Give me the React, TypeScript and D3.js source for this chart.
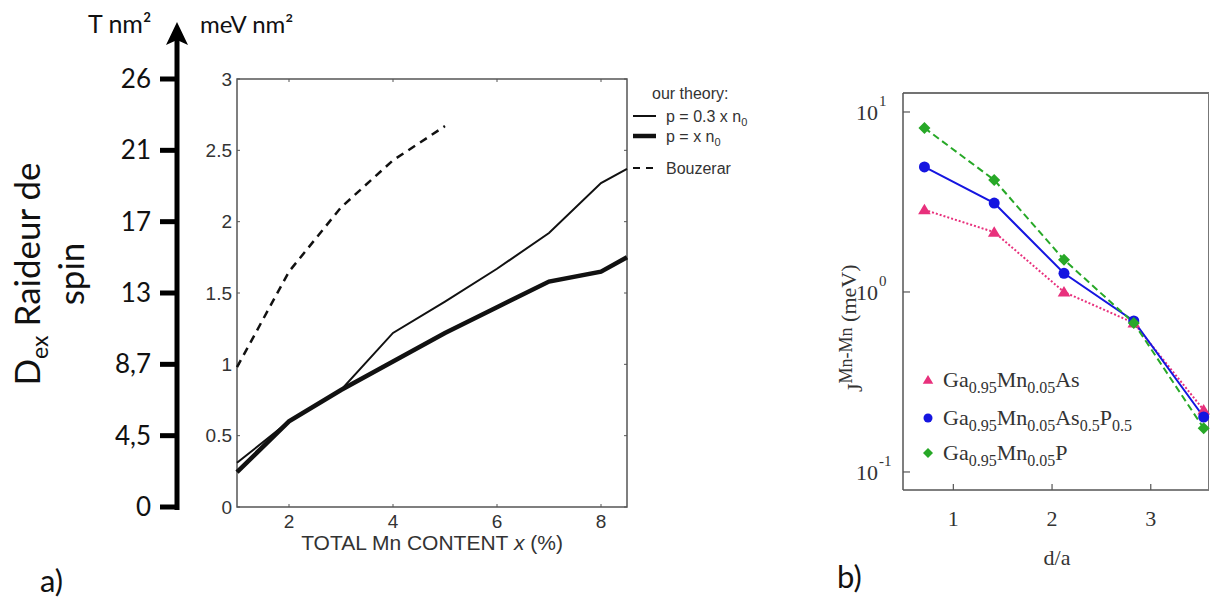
import React from "react";
import * as d3 from "d3";

// ---------- Panel a data ----------
const mnContent = [1, 2, 3, 4, 5, 6, 7, 8, 8.5];
const theoryThin = [0.31, 0.6, 0.82, 1.22, 1.44, 1.67, 1.92, 2.27, 2.37]; // p = 0.3 x n0
const theoryThick = [0.245, 0.6, 0.82, 1.02, 1.22, 1.4, 1.58, 1.65, 1.75]; // p = x n0
const bouzerarX = [1, 2, 3, 4, 5];
const bouzerarY = [0.98, 1.65, 2.1, 2.43, 2.67];
const innerYTicks = [0, 0.5, 1, 1.5, 2, 2.5, 3];
const innerYTickLabels = ["0", "0.5", "1", "1.5", "2", "2.5", "3"];
const outerYTickLabels = ["0", "4,5", "8,7", "13", "17", "21", "26"];
const innerXTicks = [2, 4, 6, 8];

// ---------- Panel b data ----------
const distance = [0.707, 1.414, 2.121, 2.828, 3.536];
const jGaMnAs = [2.86, 2.15, 1.0, 0.673, 0.221];
const jGaMnAsP = [4.95, 3.12, 1.27, 0.69, 0.202];
const jGaMnP = [8.15, 4.19, 1.51, 0.673, 0.175];
const bXTicks = [1, 2, 3];
const bYTicks = [0.1, 1, 10];
const bYExp = ["-1", "0", "1"];

const SANS = "Lato, 'Open Sans', sans-serif";
const ARIAL = "'Liberation Sans', Arial, sans-serif";
const SERIF = "'Liberation Serif', 'Times New Roman', serif";

export default function App() {
  // panel a scales
  const xA = d3.scaleLinear().domain([1, 8.5]).range([237, 627]);
  const yA = d3.scaleLinear().domain([0, 3]).range([507, 79]);
  // panel b scales
  const xB = d3.scaleLinear().domain([0.49, 3.59]).range([903, 1209]);
  const yB = d3.scaleLog().domain([0.0794, 12.75]).range([490, 93]);

  const lineA = (xs: number[]) =>
    d3
      .line<number>()
      .x((_, i) => xA(xs[i]))
      .y((d) => yA(d));
  const lineB = d3
    .line<number>()
    .x((_, i) => xB(distance[i]))
    .y((d) => yB(d));

  const axisX = 177;

  const tri = (cx: number, cy: number, s: number) =>
    `M${cx},${cy - s} L${cx + s * 1.05},${cy + s * 0.75} L${cx - s * 1.05},${cy + s * 0.75} Z`;
  const dia = (cx: number, cy: number, s: number) =>
    `M${cx},${cy - s} L${cx + s},${cy} L${cx},${cy + s} L${cx - s},${cy} Z`;

  const pink = "#e8307c";
  const blue = "#1515e0";
  const green = "#27a827";

  const legendB = [
    { y: 380, color: pink, shape: "tri", parts: [["Ga", "0.95"], ["Mn", "0.05"], ["As", ""]] },
    { y: 418, color: blue, shape: "circ", parts: [["Ga", "0.95"], ["Mn", "0.05"], ["As", "0.5"], ["P", "0.5"]] },
    { y: 453, color: green, shape: "dia", parts: [["Ga", "0.95"], ["Mn", "0.05"], ["P", ""]] },
  ];

  return (
    <svg
      width={1210}
      height={606}
      style={{ position: "absolute", left: 0, top: 0, background: "#fff" }}
    >
      <rect x={0} y={0} width={1210} height={606} fill="#fff" />

      {/* ===== Panel a: outer arrow axis ===== */}
      <line x1={axisX} y1={yA(0) + 3} x2={axisX} y2={40} stroke="#000" strokeWidth={5} />
      <path d={`M${axisX},22 L${axisX + 11},45 L${axisX},40 L${axisX - 11},45 Z`} fill="#000" />
      {innerYTicks.map((t, i) => (
        <g key={"ot" + i}>
          <line x1={160} x2={axisX} y1={yA(t)} y2={yA(t)} stroke="#000" strokeWidth={5} />
          <text
            x={151}
            y={yA(t)}
            dy="0.35em"
            textAnchor="end"
            fontFamily={SANS}
            fontSize={26}
            fill="#111"
          >
            {outerYTickLabels[i]}
          </text>
        </g>
      ))}
      <text x={88} y={33} fontFamily={SANS} fontSize={25} fill="#111">
        T nm²
      </text>
      <text x={200} y={33} fontFamily={SANS} fontSize={24} fill="#111">
        meV nm²
      </text>
      <g transform="translate(40,274) rotate(-90)">
        <text textAnchor="middle" fontFamily={SANS} fontSize={35} fill="#111">
          D
          <tspan fontSize={23} dy={8}>
            ex
          </tspan>
          <tspan dy={-8}> Raideur de</tspan>
        </text>
      </g>
      <g transform="translate(84,274) rotate(-90)">
        <text textAnchor="middle" fontFamily={SANS} fontSize={35} fill="#111">
          spin
        </text>
      </g>
      <text x={40} y={592} fontFamily={SANS} fontSize={31} fill="#111">
        a)
      </text>

      {/* ===== Panel a: inner plot ===== */}
      <rect x={237} y={79} width={390} height={428} fill="none" stroke="#555" strokeWidth={1.5} />
      {innerYTicks.map((t, i) => (
        <g key={"iy" + i}>
          <line x1={237} x2={240} y1={yA(t)} y2={yA(t)} stroke="#555" strokeWidth={1} />
          <line x1={624} x2={627} y1={yA(t)} y2={yA(t)} stroke="#555" strokeWidth={1} />
          <text
            x={232}
            y={yA(t)}
            dy="0.35em"
            textAnchor="end"
            fontFamily={ARIAL}
            fontSize={19}
            fill="#333"
          >
            {innerYTickLabels[i]}
          </text>
        </g>
      ))}
      {innerXTicks.map((t) => (
        <g key={"ix" + t}>
          <line x1={xA(t)} x2={xA(t)} y1={507} y2={504} stroke="#555" strokeWidth={1} />
          <line x1={xA(t)} x2={xA(t)} y1={79} y2={82} stroke="#555" strokeWidth={1} />
          <text
            x={xA(t)}
            y={521}
            dy="0.35em"
            textAnchor="middle"
            fontFamily={ARIAL}
            fontSize={19}
            fill="#333"
          >
            {t}
          </text>
        </g>
      ))}
      <text x={432} y={550} textAnchor="middle" fontFamily={ARIAL} fontSize={21} fill="#333">
        TOTAL Mn CONTENT <tspan fontStyle="italic">x</tspan> (%)
      </text>

      <path d={lineA(bouzerarX)(bouzerarY) || ""} fill="none" stroke="#111" strokeWidth={2.5} strokeDasharray="8,6" />
      <path d={lineA(mnContent)(theoryThin) || ""} fill="none" stroke="#111" strokeWidth={2} />
      <path d={lineA(mnContent)(theoryThick) || ""} fill="none" stroke="#111" strokeWidth={4.5} />

      {/* legend a */}
      <text x={652} y={93} dy="0.35em" fontFamily={ARIAL} fontSize={16} fill="#333">
        our theory:
      </text>
      <line x1={633} x2={656} y1={116} y2={116} stroke="#111" strokeWidth={2} />
      <text x={666} y={116} dy="0.35em" fontFamily={ARIAL} fontSize={16} fill="#333">
        p = 0.3 x n
        <tspan fontSize={11} dy={4}>
          0
        </tspan>
      </text>
      <line x1={633} x2={656} y1={136} y2={136} stroke="#111" strokeWidth={4.5} />
      <text x={666} y={136} dy="0.35em" fontFamily={ARIAL} fontSize={16} fill="#333">
        p = x n
        <tspan fontSize={11} dy={4}>
          0
        </tspan>
      </text>
      <line x1={633} x2={656} y1={168} y2={168} stroke="#111" strokeWidth={2} strokeDasharray="7,6" />
      <text x={666} y={168} dy="0.35em" fontFamily={ARIAL} fontSize={16} fill="#333">
        Bouzerar
      </text>

      {/* ===== Panel b ===== */}
      <line x1={903} x2={1209} y1={93} y2={93} stroke="#444" strokeWidth={1.5} />
      <line x1={903} x2={1209} y1={490} y2={490} stroke="#555" strokeWidth={1.5} />
      <line x1={903} x2={903} y1={93} y2={490} stroke="#555" strokeWidth={1.5} />
      <line x1={1208.5} x2={1208.5} y1={93} y2={490} stroke="#777" strokeWidth={1} />
      {bYTicks.map((t, i) => (
        <g key={"by" + i}>
          <line x1={903} x2={910} y1={yB(t)} y2={yB(t)} stroke="#555" strokeWidth={1.2} />
          <text
            x={878}
            y={yB(t)}
            dy="0.38em"
            textAnchor="end"
            fontFamily={SERIF}
            fontSize={22}
            fill="#333"
          >
            10
          </text>
          <text
            x={879}
            y={yB(t) - 6}
            fontFamily={SERIF}
            fontSize={15}
            fill="#333"
          >
            {bYExp[i]}
          </text>
        </g>
      ))}
      {bXTicks.map((t) => (
        <g key={"bx" + t}>
          <line x1={xB(t)} x2={xB(t)} y1={490} y2={484} stroke="#555" strokeWidth={1.2} />
          <text
            x={xB(t)}
            y={518}
            dy="0.35em"
            textAnchor="middle"
            fontFamily={SERIF}
            fontSize={22}
            fill="#333"
          >
            {t}
          </text>
        </g>
      ))}
      <text x={1057} y={557} dy="0.35em" textAnchor="middle" fontFamily={SERIF} fontSize={22} fill="#333">
        d/a
      </text>
      <g transform="translate(862,392) rotate(-90)">
        <text x={0} y={0} fontFamily={SERIF} fontSize={22} fill="#333">
          <tspan>J</tspan>
          <tspan fontSize={18} dy={-10}>
            Mn-Mn
          </tspan>
          <tspan fontSize={22} dy={4}>
            {" (meV)"}
          </tspan>
        </text>
      </g>
      <text x={837} y={588} fontFamily={SANS} fontSize={31} fill="#111">
        b)
      </text>

      <path d={lineB(jGaMnAs) || ""} fill="none" stroke={pink} strokeWidth={2} strokeDasharray="2,2" />
      <path d={lineB(jGaMnAsP) || ""} fill="none" stroke={blue} strokeWidth={2} />
      <path d={lineB(jGaMnP) || ""} fill="none" stroke={green} strokeWidth={2} strokeDasharray="7,4" />

      {jGaMnAs.map((v, i) => (
        <path key={"pa" + i} d={tri(xB(distance[i]), yB(v), 6)} fill={pink} />
      ))}
      {jGaMnAsP.map((v, i) => (
        <circle key={"pb" + i} cx={xB(distance[i])} cy={yB(v)} r={5.5} fill={blue} />
      ))}
      {jGaMnP.map((v, i) => (
        <path key={"pc" + i} d={dia(xB(distance[i]), yB(v), 6)} fill={green} />
      ))}

      {/* legend b */}
      {legendB.map((item, k) => (
        <g key={"lb" + k}>
          {item.shape === "tri" && <path d={tri(928, item.y, 5)} fill={item.color} />}
          {item.shape === "circ" && <circle cx={928} cy={item.y} r={4.5} fill={item.color} />}
          {item.shape === "dia" && <path d={dia(928, item.y, 5)} fill={item.color} />}
          <text x={943} y={item.y + 7} fontFamily={SERIF} fontSize={22} fill="#333">
            {item.parts.map((p, j) => (
              <React.Fragment key={j}>
                <tspan dy={j === 0 ? 0 : -6}>{p[0]}</tspan>
                {p[1] ? (
                  <tspan fontSize={16} dy={6}>
                    {p[1]}
                  </tspan>
                ) : (
                  <tspan dy={6}></tspan>
                )}
              </React.Fragment>
            ))}
          </text>
        </g>
      ))}
    </svg>
  );
}
